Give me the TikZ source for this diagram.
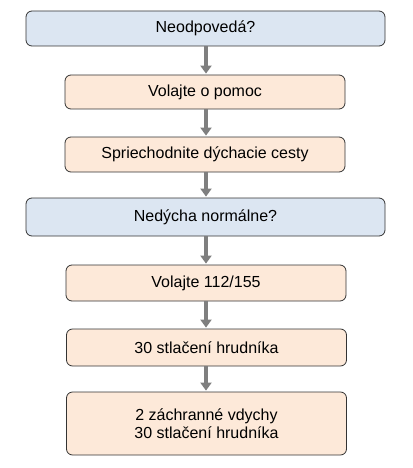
\documentclass[tikz,border=0pt]{standalone}
\usepackage{fontspec}
\setmainfont{Liberation Sans}
\usetikzlibrary{arrows.meta}
\definecolor{askblue}{RGB}{220,230,242}
\definecolor{doorange}{RGB}{253,233,217}
\definecolor{flowgray}{RGB}{127,127,127}

\begin{document}
\begin{tikzpicture}[x=1pt, y=-1pt,
    box/.style={draw=black!80, line width=0.8pt, rounded corners=6pt, inner sep=0pt, align=center,
        font=\fontsize{16}{18}\selectfont},
    ask/.style={box, fill=askblue, minimum width=359pt},
    act/.style={box, fill=doorange, minimum width=280pt},
    flow/.style={-{Triangle[width=11pt,length=8pt]}, line width=4pt, flowgray, shorten >=1pt}]
    \useasboundingbox (0,0) rectangle (412,468);
    \node[ask, minimum height=35pt] (unresp) at (205.5,28.5) {Neodpovedá?};
    \node[act, minimum height=34pt] (help) at (205,92) {Volajte o pomoc};
    \node[act, minimum height=35pt] (airway) at (205,154.5) {Spriechodnite dýchacie cesty};
    \node[ask, minimum height=38pt] (breath) at (205.5,217) {Nedýcha normálne?};
    \node[act, minimum height=36pt] (call) at (206,283) {Volajte 112/155};
    \node[act, minimum height=37pt] (press) at (206.5,347.5) {30 stlačení hrudníka};
    \node[act, minimum height=63pt] (cycle) at (206.5,423.5) {2 záchranné vdychy\\30 stlačení hrudníka};
    \foreach \a/\b in {unresp/help, help/airway, airway/breath, breath/call, call/press, press/cycle}
        \draw[flow] (\a.south -| 206,0) -- (\b.north -| 206,0);
\end{tikzpicture}
\end{document}
